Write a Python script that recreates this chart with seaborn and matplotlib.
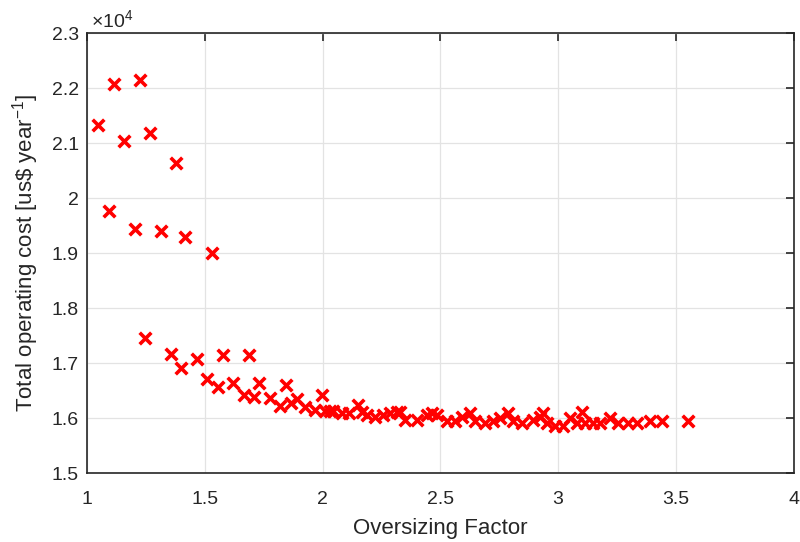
import numpy as np
import pandas as pd
import matplotlib
matplotlib.use('Agg')
import matplotlib.pyplot as plt
import seaborn as sns
from matplotlib.ticker import FuncFormatter

# Datos (costo en us$/año)
factor = [1.044, 1.094, 1.113, 1.156, 1.204, 1.224, 1.246, 1.266, 1.314, 1.356,
          1.377, 1.397, 1.416, 1.467, 1.507, 1.530, 1.557, 1.578, 1.618, 1.666,
          1.688, 1.708, 1.729, 1.776, 1.819, 1.843, 1.864, 1.889, 1.925, 1.967,
          1.998, 2.010, 2.030, 2.045, 2.080, 2.110, 2.151, 2.166, 2.187, 2.222,
          2.257, 2.286, 2.314, 2.328, 2.350, 2.399, 2.442, 2.463, 2.484, 2.527,
          2.562, 2.590, 2.626, 2.647, 2.689, 2.725, 2.753, 2.788, 2.810, 2.845,
          2.895, 2.923, 2.937, 2.952, 2.987, 3.022, 3.051, 3.079, 3.100, 3.114,
          3.150, 3.178, 3.220, 3.256, 3.298, 3.334, 3.390, 3.440, 3.553]
costo = [21320, 19770, 22080, 21030, 19440, 22140, 17450, 21180, 19410, 17170,
         20630, 16910, 19300, 17080, 16710, 19010, 16570, 17150, 16640, 16420,
         17150, 16380, 16640, 16370, 16220, 16610, 16270, 16350, 16210, 16150,
         16420, 16130, 16130, 16130, 16090, 16090, 16240, 16120, 16060, 16030,
         16060, 16090, 16120, 16120, 15970, 15970, 16060, 16090, 16060, 15940,
         15940, 16030, 16090, 15940, 15910, 15940, 16000, 16090, 15940, 15910,
         15970, 16030, 16090, 15910, 15850, 15850, 16000, 15910, 16120, 15910,
         15910, 15910, 16000, 15910, 15910, 15910, 15940, 15940, 15940]

df = pd.DataFrame({'Factor': factor, 'Costo': costo})

sns.set_style('white')
plt.rcParams['font.family'] = ['Liberation Sans', 'DejaVu Sans']
plt.rcParams['mathtext.fontset'] = 'custom'
plt.rcParams['mathtext.rm'] = 'Liberation Sans'
plt.rcParams['mathtext.it'] = 'Liberation Sans'

fig = plt.figure(figsize=(8, 5.42), dpi=100)
ax = fig.add_axes([0.109, 0.127, 0.883, 0.812])

sns.scatterplot(data=df, x='Factor', y='Costo', marker='x', color='#ff0000',
                s=70, linewidth=2.6, ax=ax, zorder=3)

ax.set_xlim(1, 4)
ax.set_ylim(15000, 23000)
ax.set_xticks([1, 1.5, 2, 2.5, 3, 3.5, 4])
ax.set_xticklabels(['1', '1.5', '2', '2.5', '3', '3.5', '4'])
ax.set_yticks(np.arange(15000, 23001, 1000))
ax.yaxis.set_major_formatter(FuncFormatter(lambda v, p: f'{v / 1e4:g}'))

ax.grid(True, color='#e3e3e3', linewidth=0.9)
ax.set_axisbelow(True)
ax.tick_params(direction='in', length=6, width=1.2, top=True, right=True,
               labelsize=14, colors='#262626')
ax.tick_params(axis='x', pad=13)
ax.tick_params(axis='y', pad=6)
for s in ax.spines.values():
    s.set_color('#262626')
    s.set_linewidth(1.2)

ax.set_xlabel('Oversizing Factor', fontsize=16, color='#262626', labelpad=7)
ax.set_ylabel(r'Total operating cost [us\$ year$^{\mathregular{-1}}$]', fontsize=16,
              color='#262626', labelpad=8)
ax.text(0.005, 1.005, r'$\times$10$^{\mathregular{4}}$', transform=ax.transAxes,
        fontsize=14, color='#262626', va='bottom', ha='left')

plt.savefig('out.png', dpi=100)
